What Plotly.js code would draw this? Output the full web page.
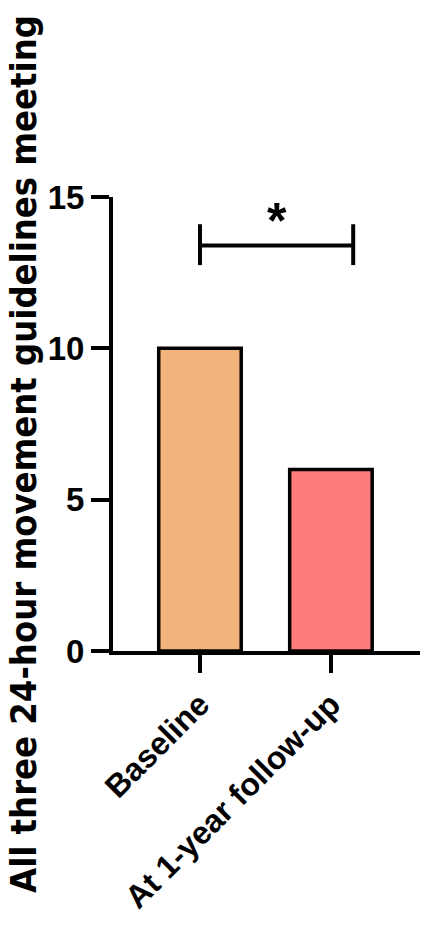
<!DOCTYPE html>
<html>
<head>
<meta charset="utf-8">
<script src="https://cdn.plot.ly/plotly-3.0.1.min.js"></script>
<style>
  html, body { margin: 0; padding: 0; background: #fff; }
  #chart { width: 432px; height: 926px; }
</style>
</head>
<body>
<div id="chart"></div>
<script>
// groups and counts meeting all three guidelines
const categories = ['Baseline', 'At 1-year follow-up'];
const counts = [10, 6];
const barColors = ['#F1B47A', '#FF7C7C'];
const yTicks = [0, 5, 10, 15];

// significance bracket between the two groups
const bracketX = [0, 0, null, 0, 1.17, null, 1.17, 1.17];
const bracketY = [12.75, 14.1, null, 13.4, 13.4, null, 12.75, 14.1];
const sigLabel = '*';
const sigPos = [0.59, 14.2];

const yTitle = 'All three 24-hour movement guidelines meeting';

const font = 'Liberation Sans, Arial, sans-serif';
const narrow = 'Liberation Sans Narrow, DejaVu Sans Condensed, Arial Narrow, sans-serif';

const xIdx = categories.map((_, i) => i);

const data = [
  {
    type: 'bar',
    x: xIdx,
    y: counts,
    width: 0.63,
    marker: {
      color: barColors,
      line: { color: '#000', width: 3.5 }
    },
    hoverinfo: 'skip'
  },
  {
    type: 'scatter',
    mode: 'lines',
    x: bracketX,
    y: bracketY,
    line: { color: '#000', width: 4 },
    hoverinfo: 'skip'
  }
];

const layout = {
  width: 432,
  height: 926,
  showlegend: false,
  paper_bgcolor: '#fff',
  plot_bgcolor: '#fff',
  margin: { l: 113, r: 12, t: 197, b: 275 },
  font: { family: font, color: '#000' },
  xaxis: {
    range: [-0.664, 1.68],
    tickvals: xIdx,
    ticktext: categories,
    tickangle: -45,
    tickfont: { family: font, size: 32, weight: 'bold' },
    showline: true,
    linewidth: 4,
    linecolor: '#000',
    ticks: 'outside',
    ticklen: 18,
    tickwidth: 4,
    tickcolor: '#000',
    showgrid: false,
    zeroline: false,
    fixedrange: true
  },
  yaxis: {
    range: [0, 15],
    tickvals: yTicks,
    tickfont: { family: font, size: 33, weight: 'bold' },
    showline: true,
    linewidth: 4,
    linecolor: '#000',
    ticks: 'outside',
    ticklen: 18,
    tickwidth: 4,
    tickcolor: '#000',
    ticklabelstandoff: 0,
    showgrid: false,
    zeroline: false,
    fixedrange: true
  },
  annotations: [
    {
      text: sigLabel,
      x: sigPos[0],
      y: sigPos[1],
      xref: 'x',
      yref: 'y',
      xanchor: 'center',
      yanchor: 'middle',
      showarrow: false,
      font: { family: font, size: 50, weight: 'bold' }
    },
    {
      text: yTitle,
      textangle: -90,
      xref: 'paper',
      yref: 'paper',
      xanchor: 'center',
      yanchor: 'middle',
      x: -0.29,
      y: 0.434,
      showarrow: false,
      font: { family: narrow, size: 36, weight: 'bold' }
    }
  ]
};

Plotly.newPlot('chart', data, layout, { staticPlot: true, displayModeBar: false });
</script>
</body>
</html>
